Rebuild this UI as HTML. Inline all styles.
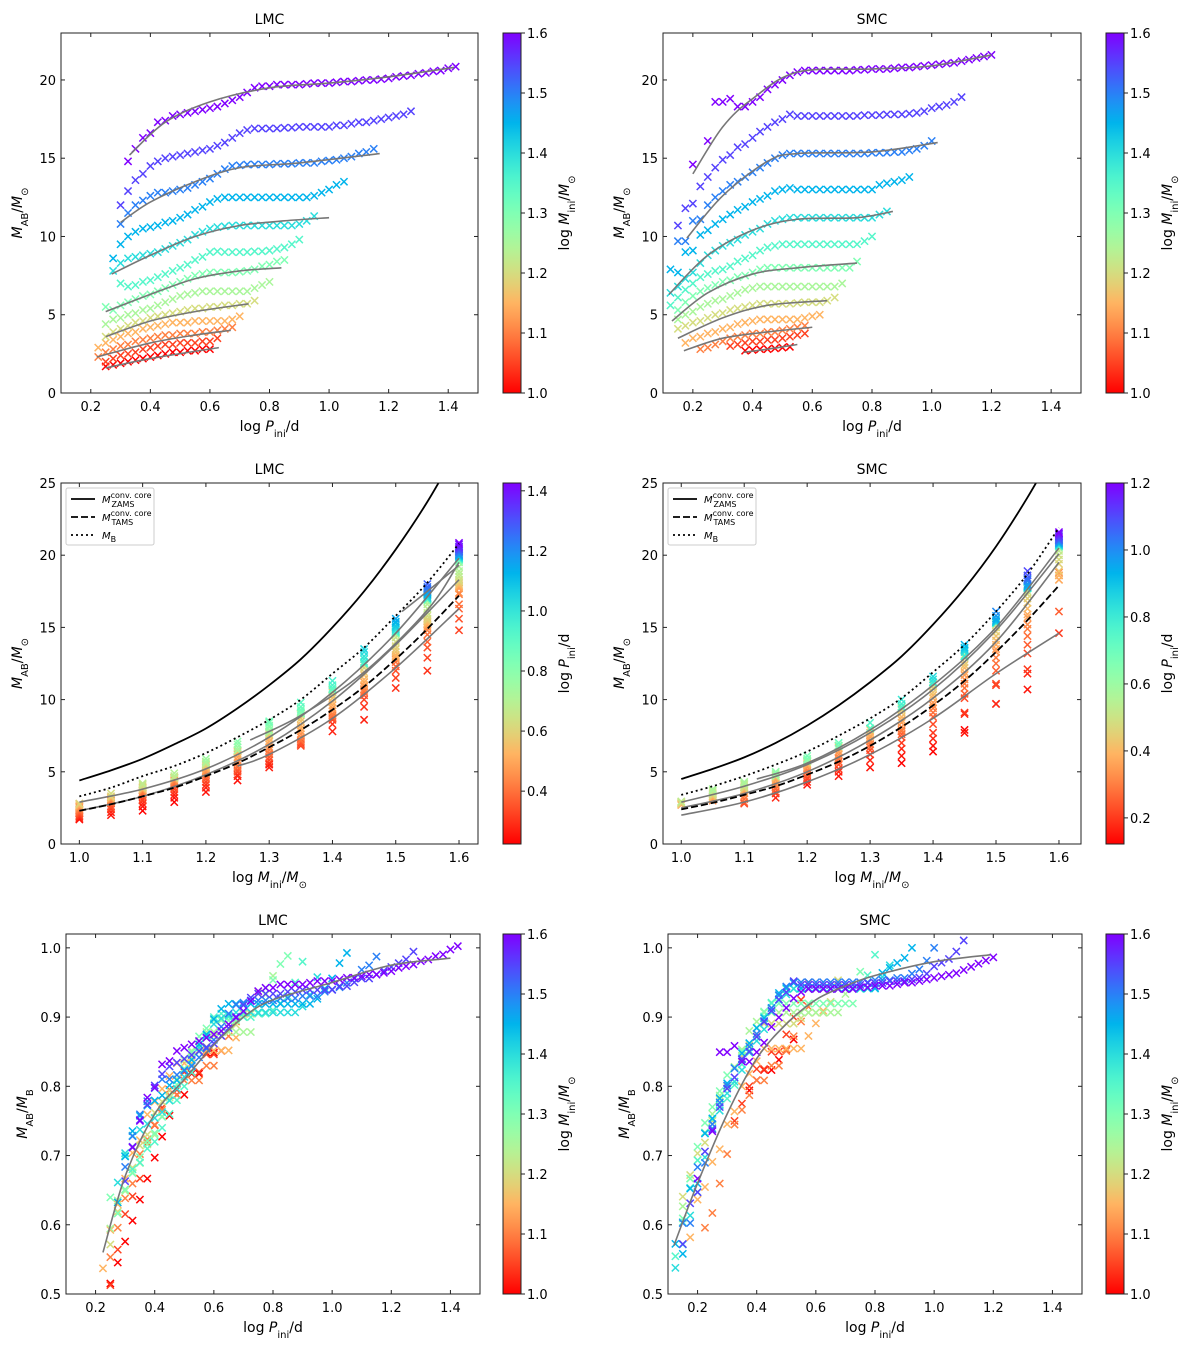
<!DOCTYPE html>
<html><head><meta charset="utf-8"><style>
html,body{margin:0;padding:0;background:#fff;}
svg{display:block;font-family:"DejaVu Sans","Liberation Sans",sans-serif;}
</style></head><body>
<svg id="fig" width="1200" height="1350" viewBox="0 0 1200 1350" xmlns="http://www.w3.org/2000/svg">
<defs id="defs"></defs>
</svg>
<script>
// ---------- DATA ----------
const lmcMass = [1.6,1.55,1.5,1.45,1.4,1.35,1.3,1.25,1.2,1.15,1.1,1.05,1.0];
const lmcP0 = [0.325,0.3,0.3,0.275,0.275,0.3,0.25,0.25,0.25,0.225,0.225,0.25,0.25];
const lmcMab = [
[14.8,15.6,16.3,16.6,17.3,17.4,17.7,17.8,17.9,18.0,18.1,18.2,18.3,18.5,18.7,18.9,19.2,19.5,19.6,19.6,19.7,19.7,19.7,19.7,19.75,19.8,19.8,19.8,19.85,19.9,19.9,19.95,20.0,20.0,20.05,20.1,20.2,20.25,20.3,20.4,20.45,20.55,20.6,20.75,20.85],
[12.0,12.9,13.6,14.0,14.5,14.8,15.0,15.1,15.2,15.3,15.4,15.5,15.6,15.8,16.0,16.3,16.6,16.8,16.9,16.9,16.9,16.9,16.95,16.95,17.0,17.0,17.0,17.0,17.0,17.1,17.1,17.2,17.3,17.3,17.4,17.5,17.6,17.7,17.8,18.0],
[10.8,11.5,12.0,12.3,12.6,12.8,12.8,12.9,13.0,13.1,13.3,13.5,13.7,14.0,14.3,14.5,14.55,14.6,14.6,14.6,14.6,14.65,14.65,14.65,14.7,14.7,14.7,14.8,14.85,14.9,15.0,15.1,15.3,15.4,15.6],
[8.6,9.5,10.0,10.3,10.5,10.6,10.7,10.9,11.0,11.2,11.4,11.7,11.9,12.2,12.4,12.5,12.5,12.5,12.5,12.5,12.5,12.5,12.5,12.5,12.5,12.5,12.5,12.6,12.8,13.0,13.3,13.5],
[7.8,8.3,8.6,8.7,8.8,8.9,9.0,9.2,9.4,9.6,9.8,10.1,10.3,10.5,10.6,10.65,10.7,10.7,10.7,10.7,10.7,10.7,10.7,10.7,10.7,10.8,11.0,11.3],
[7.0,6.8,6.9,7.1,7.2,7.4,7.6,7.8,8.0,8.2,8.5,8.7,9.0,9.05,9.0,9.0,9.0,9.0,9.05,9.05,9.1,9.2,9.3,9.5,9.8],
[5.5,5.3,5.6,5.8,6.0,6.2,6.3,6.5,6.7,6.9,7.1,7.3,7.5,7.6,7.7,7.7,7.7,7.7,7.75,7.8,7.9,8.1,8.2,8.4,8.5],
[4.4,4.7,4.8,5.0,5.1,5.3,5.4,5.6,5.8,6.0,6.2,6.3,6.4,6.5,6.5,6.5,6.5,6.5,6.5,6.5,6.7,6.9,7.1],
[3.6,3.9,4.1,4.3,4.5,4.6,4.8,4.9,5.0,5.1,5.2,5.3,5.4,5.4,5.5,5.5,5.6,5.6,5.7,5.7,5.9],
[2.9,3.2,3.4,3.6,3.8,3.9,4.1,4.2,4.3,4.4,4.5,4.5,4.5,4.6,4.6,4.6,4.6,4.6,4.7,4.9],
[2.3,2.6,2.8,3.0,3.1,3.3,3.4,3.5,3.6,3.7,3.7,3.8,3.8,3.8,3.9,3.9,4.0,4.1,4.2],
[2.0,2.2,2.4,2.5,2.6,2.8,2.9,3.0,3.1,3.1,3.2,3.2,3.2,3.3,3.3,3.5],
[1.7,1.8,1.9,2.0,2.1,2.2,2.3,2.4,2.5,2.6,2.6,2.7,2.7,2.8,2.8]
];
const smcMass = [1.6,1.55,1.5,1.45,1.4,1.35,1.3,1.25,1.2,1.15,1.1,1.05,1.0];
const smcP0 = [0.2,0.15,0.15,0.125,0.125,0.125,0.15,0.15,0.15,0.175,0.225,0.325,0.375];
const smcMab = [
[14.6,null,16.1,18.6,18.6,18.8,18.3,18.3,18.6,18.9,19.4,19.7,20.0,20.3,20.5,20.6,20.6,20.6,20.6,20.6,20.6,20.6,20.65,20.65,20.7,20.7,20.7,20.75,20.8,20.8,20.85,20.9,20.95,21.0,21.05,21.1,21.2,21.3,21.4,21.5,21.6],
[10.7,11.8,12.1,13.2,13.8,14.4,14.9,15.2,15.7,15.9,16.3,16.7,17.0,17.3,17.5,17.8,17.7,17.7,17.7,17.7,17.7,17.7,17.7,17.7,17.7,17.75,17.75,17.75,17.8,17.8,17.8,17.85,17.9,18.0,18.2,18.3,18.4,18.6,18.9],
[9.7,9.7,11.0,11.1,12.0,12.5,12.9,13.3,13.5,13.8,14.1,14.4,14.7,15.0,15.2,15.3,15.3,15.3,15.3,15.3,15.3,15.3,15.3,15.3,15.3,15.3,15.35,15.35,15.35,15.4,15.4,15.5,15.6,15.8,16.1],
[7.9,7.7,9.0,9.1,10.1,10.4,10.8,11.1,11.4,11.7,11.9,12.2,12.4,12.6,12.9,13.0,13.1,13.0,13.0,13.0,13.0,13.0,13.0,13.0,13.0,13.0,13.0,13.0,13.3,13.4,13.5,13.6,13.8],
[6.4,6.8,7.3,7.7,8.3,8.8,9.1,9.4,9.6,9.8,10.1,10.3,10.5,10.8,11.0,11.1,11.2,11.2,11.2,11.2,11.2,11.2,11.2,11.2,11.2,11.2,11.2,11.2,11.4,11.6],
[5.6,6.1,6.6,7.0,7.4,7.6,7.8,7.9,8.1,8.4,8.6,8.8,9.1,9.3,9.4,9.5,9.5,9.5,9.5,9.5,9.5,9.5,9.5,9.5,9.5,9.5,9.7,10.0],
[5.3,5.8,6.2,6.5,6.7,6.9,7.1,7.2,7.4,7.5,7.7,7.9,8.0,8.0,8.0,8.0,8.0,8.0,8.0,8.0,8.0,8.0,8.0,8.0,8.4],
[4.7,5.0,5.2,5.5,5.7,5.9,6.0,6.2,6.4,6.6,6.7,6.8,6.8,6.8,6.8,6.8,6.8,6.8,6.8,6.8,6.8,6.8,7.0],
[4.1,4.3,4.5,4.6,4.8,5.0,5.1,5.3,5.4,5.5,5.6,5.7,5.7,5.7,5.7,5.7,5.75,5.8,5.8,5.8,5.9,6.1],
[3.2,3.5,3.6,3.8,3.9,4.1,4.2,4.4,4.5,4.6,4.7,4.7,4.7,4.7,4.7,4.7,4.8,4.9,5.0],
[2.8,2.9,3.1,3.3,3.5,3.6,3.7,3.8,3.8,3.9,3.9,4.0,4.1,4.2,4.3],
[3.0,3.1,3.2,3.3,3.3,3.4,3.4,3.5,3.6,3.7,3.8],
[2.7,2.75,2.8,2.8,2.85,2.9,2.95]
];
const pStep = 0.025;
const massGrid = [1.0,1.05,1.1,1.15,1.2,1.25,1.3,1.35,1.4,1.45,1.5,1.55,1.6];
const lmcMB = [3.3,3.9,4.7,5.4,6.3,7.4,8.6,10.0,11.8,13.6,15.8,18.1,20.8];
const smcMB = [3.4,4.0,4.7,5.5,6.4,7.5,8.7,10.1,11.9,13.8,16.1,18.7,21.9];
const lmcZAMS = [4.4,5.1,5.9,6.9,8.0,9.4,11.0,12.8,15.0,17.5,20.4,23.7,27.5];
const smcZAMS = [4.5,5.2,6.0,7.0,8.2,9.6,11.2,13.0,15.2,17.7,20.6,24.0,27.8];
const lmcTAMS = [2.3,2.75,3.3,3.9,4.7,5.6,6.7,7.9,9.3,10.9,12.8,14.9,17.2];
const smcTAMS = [2.4,2.85,3.4,4.0,4.8,5.7,6.8,8.1,9.6,11.3,13.3,15.5,17.9];
const lmcTopFits = [
[[0.33,15.2],[0.45,17.3],[0.6,18.6],[0.8,19.5],[1.0,19.8],[1.2,20.2],[1.42,20.8]],
[[0.3,10.9],[0.4,12.2],[0.55,13.5],[0.7,14.4],[0.9,14.7],[1.17,15.3]],
[[0.27,7.6],[0.4,8.8],[0.55,10.0],[0.7,10.7],[0.85,11.0],[1.0,11.2]],
[[0.25,5.2],[0.4,6.3],[0.55,7.3],[0.7,7.8],[0.84,8.0]],
[[0.25,3.6],[0.4,4.6],[0.55,5.2],[0.73,5.7]],
[[0.22,2.3],[0.4,3.2],[0.55,3.7],[0.67,4.0]],
[[0.25,1.6],[0.4,2.2],[0.63,2.9]]
];
const smcTopFits = [
[[0.2,14.0],[0.3,17.0],[0.4,18.8],[0.55,20.5],[0.8,20.7],[1.0,20.9],[1.2,21.6]],
[[0.18,9.9],[0.3,12.6],[0.45,14.8],[0.55,15.3],[0.8,15.4],[1.02,16.0]],
[[0.12,6.3],[0.25,8.8],[0.4,10.4],[0.55,11.1],[0.75,11.2],[0.87,11.6]],
[[0.13,4.6],[0.25,6.4],[0.4,7.6],[0.55,8.0],[0.75,8.3]],
[[0.15,3.5],[0.3,4.8],[0.45,5.6],[0.65,5.9]],
[[0.17,2.7],[0.3,3.5],[0.45,3.9],[0.6,4.2]],
[[0.37,2.6],[0.45,2.8],[0.55,3.1]]
];
const lmcMidFits = [
[[1.0,2.9],[1.1,3.8],[1.2,5.2],[1.3,7.4],[1.4,10.5],[1.5,14.6],[1.6,19.8]],
[[1.27,7.2],[1.35,8.9],[1.45,11.9],[1.55,16.2],[1.6,19.5]],
[[1.51,16.1],[1.55,17.5],[1.6,19.3]],
[[1.0,2.3],[1.1,3.3],[1.2,4.8],[1.3,6.9],[1.4,9.9],[1.5,13.8],[1.6,18.3]],
[[1.25,5.4],[1.3,6.2],[1.4,8.7],[1.5,12.2],[1.6,16.3]]
];
const smcMidFits = [
[[1.0,2.0],[1.1,2.9],[1.2,4.3],[1.3,6.2],[1.4,8.7],[1.5,11.8],[1.6,14.6]],
[[1.0,2.5],[1.1,3.5],[1.2,5.0],[1.3,7.2],[1.4,10.1],[1.5,14.0],[1.6,19.5]],
[[1.12,4.5],[1.2,5.6],[1.3,7.9],[1.4,11.0],[1.5,15.0],[1.6,20.5]],
[[1.0,2.9],[1.1,4.0],[1.2,5.5],[1.3,7.7],[1.4,10.7],[1.5,14.8],[1.6,20.1]]
];
const lmcRatioFit = [[0.225,0.56],[0.3,0.67],[0.4,0.76],[0.5,0.81],[0.6,0.86],[0.7,0.90],[0.8,0.925],[1.0,0.95],[1.2,0.975],[1.4,0.985]];
const smcRatioFit = [[0.12,0.57],[0.2,0.66],[0.3,0.76],[0.4,0.84],[0.5,0.89],[0.6,0.925],[0.7,0.945],[0.8,0.96],[1.0,0.98],[1.19,0.99]];
const topXTicks = [0.2,0.4,0.6,0.8,1.0,1.2,1.4];
const topYTicks = [0,5,10,15,20];
const midXTicks = [1.0,1.1,1.2,1.3,1.4,1.5,1.6];
const midYTicks = [0,5,10,15,20,25];
const botYTicks = [0.5,0.6,0.7,0.8,0.9,1.0];
const massCbTicks = [1.0,1.1,1.2,1.3,1.4,1.5,1.6];
const lmcPCbTicks = [0.4,0.6,0.8,1.0,1.2,1.4];
const smcPCbTicks = [0.2,0.4,0.6,0.8,1.0,1.2];

// ---------- HELPERS ----------
const NS='http://www.w3.org/2000/svg';
const svg=document.getElementById('fig');
const defs=document.getElementById('defs');
function el(tag,parent){const e=document.createElementNS(NS,tag);parent.appendChild(e);return e;}
function set(e,o){for(const k in o)e.setAttribute(k,o[k]);return e;}
function rainbow(t){t=Math.max(0,Math.min(1,t));
  const r=Math.min(1,Math.abs(2*t-0.5)),g=Math.max(0,Math.sin(Math.PI*t)),b=Math.max(0,Math.cos(Math.PI*t/2));
  return 'rgb('+Math.round(r*255)+','+Math.round(g*255)+','+Math.round(b*255)+')';}
function cmap(v,lo,hi){return rainbow(1-(v-lo)/(hi-lo));}
function fmt(v,d){return v.toFixed(d);}
const SUB=(s)=>'<tspan baseline-shift="sub" font-size="10">'+s+'</tspan>';
const IT=(s)=>'<tspan font-style="italic">'+s+'</tspan>';
const LBL_P='log '+IT('P')+SUB('ini')+'/d';
const LBL_M='log '+IT('M')+SUB('ini')+'/'+IT('M')+SUB('⊙');
const LBL_MAB=IT('M')+SUB('AB')+'/'+IT('M')+SUB('⊙');
const LBL_RAT=IT('M')+SUB('AB')+'/'+IT('M')+SUB('B');

let pid=0;
function panel(p){
  pid++;
  const g=el('g',svg);
  
  
  const sx=v=>p.x0+(v-p.xlim[0])/(p.xlim[1]-p.xlim[0])*(p.x1-p.x0);
  const sy=v=>p.y1-(v-p.ylim[0])/(p.ylim[1]-p.ylim[0])*(p.y1-p.y0);
  const cp=el('clipPath',defs);set(cp,{id:'clip'+pid});
  set(el('rect',cp),{x:p.x0,y:p.y0,width:p.x1-p.x0,height:p.y1-p.y0});
  const plot=el('g',g);set(plot,{'clip-path':'url(#clip'+pid+')'});
  
  
  const t=el('text',g);set(t,{x:(p.x0+p.x1)/2,y:p.y0-9,'text-anchor':'middle','font-size':14});t.textContent=p.title;
  
  
  const xl=el('text',g);set(xl,{x:(p.x0+p.x1)/2,y:p.y1+38,'text-anchor':'middle','font-size':14});xl.innerHTML=p.xlabel;
  
  
  const yl=el('text',g);const yx=p.x0-39,yy=(p.y0+p.y1)/2;
  set(yl,{x:yx,y:yy,'text-anchor':'middle','font-size':14,transform:'rotate(-90 '+yx+' '+yy+')'});yl.innerHTML=p.ylabel;
  
  
  const cb=p.cb;
  const gr=el('linearGradient',defs);set(gr,{id:'grad'+pid,x1:0,y1:1,x2:0,y2:0});
  for(let i=0;i<=20;i++){const s=el('stop',gr);set(s,{offset:(i/20),'stop-color':rainbow(1-i/20)});}
  const cbr=el('rect',g);set(cbr,{x:cb.x0,y:p.y0,width:cb.x1-cb.x0,height:p.y1-p.y0,fill:'url(#grad'+pid+')',stroke:'#222','stroke-width':1});
  
  
  const cy=v=>p.y1-(v-cb.lo)/(cb.hi-cb.lo)*(p.y1-p.y0);
  cb.ticks.forEach(v=>{const y=cy(v);
    set(el('line',g),{x1:cb.x1,x2:cb.x1+4,y1:y,y2:y,stroke:'#222','stroke-width':1});
    const tt=el('text',g);set(tt,{x:cb.x1+6,y:y+5,'font-size':13});tt.textContent=fmt(v,1);
    
    });
  const cl=el('text',g);const clx=cb.x1+48;
  set(cl,{x:clx,y:yy,'text-anchor':'middle','font-size':14,transform:'rotate(-90 '+clx+' '+yy+')'});cl.innerHTML=cb.label;
  
  
  p.finish=function(){
    const fr=el('rect',g);set(fr,{x:p.x0,y:p.y0,width:p.x1-p.x0,height:p.y1-p.y0,fill:'none',stroke:'#222','stroke-width':1});
    
    
    p.xticks.forEach(v=>{const x=sx(v);
      set(el('line',g),{x1:x,x2:x,y1:p.y1,y2:p.y1-4,stroke:'#222'});
      set(el('line',g),{x1:x,x2:x,y1:p.y0,y2:p.y0+4,stroke:'#222'});
      const tt=el('text',g);set(tt,{x:x,y:p.y1+18,'text-anchor':'middle','font-size':13});tt.textContent=fmt(v,p.xd);
      
      });
    p.yticks.forEach(v=>{const y=sy(v);
      set(el('line',g),{x1:p.x0,x2:p.x0+4,y1:y,y2:y,stroke:'#222'});
      set(el('line',g),{x1:p.x1,x2:p.x1-4,y1:y,y2:y,stroke:'#222'});
      const tt=el('text',g);set(tt,{x:p.x0-5,y:y+5,'text-anchor':'end','font-size':13});tt.textContent=fmt(v,p.yd);
      
      });
  };
  return {g,plot,sx,sy,p};
}
function cross(parent,x,y,c,name){
  const e=el('path',parent);
  set(e,{d:'M'+(x-3.6)+','+(y-3.6)+'L'+(x+3.6)+','+(y+3.6)+'M'+(x-3.6)+','+(y+3.6)+'L'+(x+3.6)+','+(y-3.6),stroke:c,'stroke-width':1.5,fill:'none'});
  
  
}
function smoothPath(pts){
  let d='M'+pts[0][0]+','+pts[0][1];
  for(let i=0;i<pts.length-1;i++){
    const p0=pts[Math.max(0,i-1)],p1=pts[i],p2=pts[i+1],p3=pts[Math.min(pts.length-1,i+2)];
    const c1=[p1[0]+(p2[0]-p0[0])/6,p1[1]+(p2[1]-p0[1])/6],c2=[p2[0]-(p3[0]-p1[0])/6,p2[1]-(p3[1]-p1[1])/6];
    d+='C'+c1[0]+','+c1[1]+' '+c2[0]+','+c2[1]+' '+p2[0]+','+p2[1];}
  return d;
}
function curve(P,knots,style,name){
  const e=el('path',P.plot);
  set(e,Object.assign({d:smoothPath(knots.map(k=>[P.sx(k[0]),P.sy(k[1])])),fill:'none'},style));
  
  
}
const GREY={stroke:'#777','stroke-width':1.6};

function massCb(x0){return {x0:x0,x1:x0+18,lo:1.0,hi:1.6,ticks:massCbTicks,label:LBL_M};}
const rows=[
 {lmc:{x0:61,x1:478,y0:33,y1:393},smc:{x0:663,x1:1081,y0:33,y1:393}},
 {lmc:{x0:61,x1:478,y0:483,y1:844},smc:{x0:663,x1:1081,y0:483,y1:844}},
 {lmc:{x0:66,x1:480,y0:934,y1:1294},smc:{x0:668,x1:1082,y0:934,y1:1294}}
];
const sets=[
 {key:'lmc',title:'LMC',mass:lmcMass,p0:lmcP0,mab:lmcMab,MB:lmcMB,ZAMS:lmcZAMS,TAMS:lmcTAMS,topFits:lmcTopFits,midFits:lmcMidFits,ratioFit:lmcRatioFit,cbx:503,pcb:[0.224,1.426],pticks:lmcPCbTicks,midX:[0.971,1.63]},
 {key:'smc',title:'SMC',mass:smcMass,p0:smcP0,mab:smcMab,MB:smcMB,ZAMS:smcZAMS,TAMS:smcTAMS,topFits:smcTopFits,midFits:smcMidFits,ratioFit:smcRatioFit,cbx:1106,pcb:[0.122,1.2],pticks:smcPCbTicks,midX:[0.971,1.635]}
];
sets.forEach(S=>{
  const r0=rows[0][S.key];
  const T=panel(Object.assign({},r0,{name:S.key+'-mab-vs-period',title:S.title,xlabel:LBL_P,ylabel:LBL_MAB,xlim:[0.1,1.5],ylim:[0,23],xticks:topXTicks,yticks:topYTicks,xd:1,yd:0,cb:massCb(S.cbx)}));
  for(let i=S.mass.length-1;i>=0;i--){
    const c=cmap(S.mass[i],1.0,1.6);
    S.mab[i].forEach((v,j)=>{if(v===null)return;cross(T.plot,T.sx(S.p0[i]+j*pStep),T.sy(v),c,'track-marker');});
  }
  S.topFits.forEach(k=>curve(T,k,GREY,'fit-line'));
  T.p.finish();
  const r1=rows[1][S.key];
  const M=panel(Object.assign({},r1,{name:S.key+'-mab-vs-mass',title:S.title,xlabel:LBL_M,ylabel:LBL_MAB,xlim:S.midX,ylim:[0,25],xticks:midXTicks,yticks:midYTicks,xd:1,yd:0,cb:{x0:S.cbx,x1:S.cbx+18,lo:S.pcb[0],hi:S.pcb[1],ticks:S.pticks,label:LBL_P}}));
  const pts=[];
  S.mass.forEach((m,i)=>S.mab[i].forEach((v,j)=>{if(v!==null)pts.push([m,v,S.p0[i]+j*pStep]);}));
  pts.sort((a,b)=>a[2]-b[2]);
  pts.forEach(q=>cross(M.plot,M.sx(q[0]),M.sy(q[1]),cmap(q[2],S.pcb[0],S.pcb[1]),'model-marker'));
  S.midFits.forEach(k=>curve(M,k,GREY,'fit-line'));
  curve(M,massGrid.map((m,i)=>[m,S.ZAMS[i]]),{stroke:'#000','stroke-width':1.8},'zams-core-line');
  curve(M,massGrid.map((m,i)=>[m,S.TAMS[i]]),{stroke:'#000','stroke-width':1.8,'stroke-dasharray':'7,3'},'tams-core-line');
  curve(M,massGrid.map((m,i)=>[m,S.MB[i]]),{stroke:'#000','stroke-width':1.8,'stroke-dasharray':'2,3'},'mb-line');
  const lg=el('g',M.g);
  
  
  const lx=r1.x0+5,ly=r1.y0+5;
  set(el('rect',lg),{x:lx,y:ly,width:88,height:57,fill:'#fff',stroke:'#ccc',rx:2});
  const ents=[['', 'ZAMS'],['7,3','TAMS'],['2,3','B']];
  ents.forEach((e,k)=>{const y=ly+11+k*18;
    const ln=el('line',lg);set(ln,{x1:lx+5,x2:lx+29,y1:y,y2:y,stroke:'#000','stroke-width':1.8});if(e[0])ln.setAttribute('stroke-dasharray',e[0]);
    
    
    const tx=el('text',lg);set(tx,{x:lx+36,y:y+4,'font-size':10});
    tx.innerHTML=k<2?IT('M')+'<tspan font-size="8" dy="-5">conv. core</tspan><tspan font-size="8" dx="-40" dy="9">'+e[1]+'</tspan>':IT('M')+'<tspan font-size="8" dy="3">B</tspan>';
    
    });
  M.p.finish();
  const r2=rows[2][S.key];
  const B=panel(Object.assign({},r2,{name:S.key+'-ratio-vs-period',title:S.title,xlabel:LBL_P,ylabel:LBL_RAT,xlim:[0.1,1.5],ylim:[0.5,1.02],xticks:topXTicks,yticks:botYTicks,xd:1,yd:1,cb:massCb(S.cbx)}));
  for(let i=S.mass.length-1;i>=0;i--){
    const c=cmap(S.mass[i],1.0,1.6);
    const mb=S.MB[massGrid.indexOf(S.mass[i])];
    S.mab[i].forEach((v,j)=>{if(v===null)return;cross(B.plot,B.sx(S.p0[i]+j*pStep),B.sy(v/mb),c,'ratio-marker');});
  }
  curve(B,S.ratioFit,GREY,'fit-line');
  B.p.finish();
});
</script>
</body></html>
